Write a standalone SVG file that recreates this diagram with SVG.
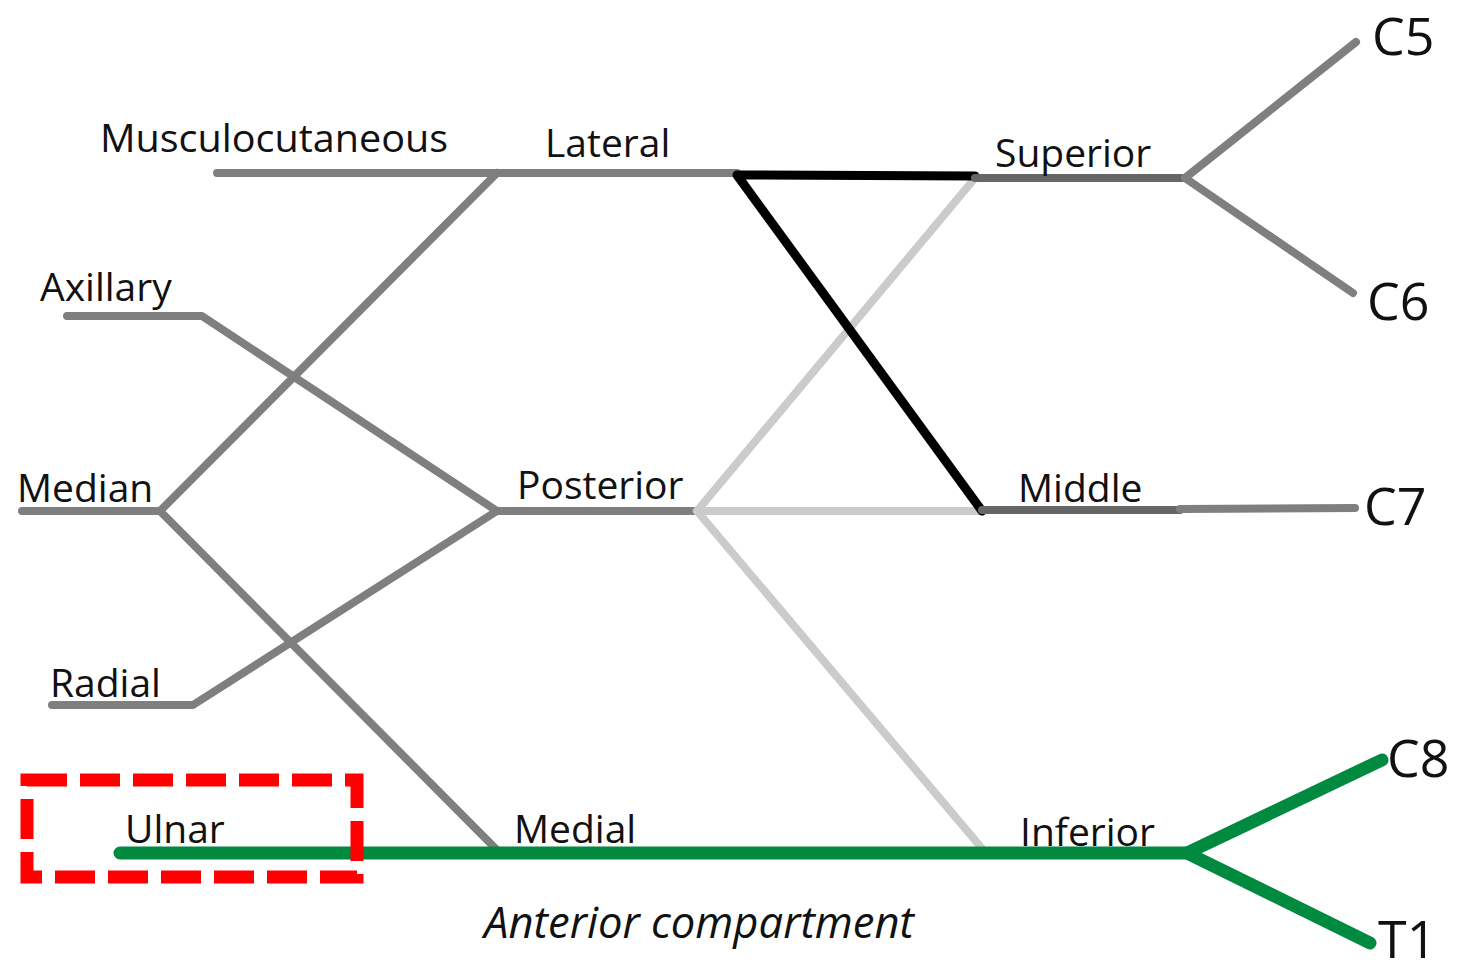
<svg xmlns="http://www.w3.org/2000/svg" width="1461" height="971" viewBox="0 0 1461 971">
<style>
.l{fill:none;stroke-linecap:round;stroke-linejoin:round}
.g{stroke:#7f7f7f;stroke-width:8}
.dg{stroke:#666;stroke-width:8}
.bk{stroke:#000;stroke-width:9}
.lg{stroke:#cbcbcb;stroke-width:8}
.gr{stroke:#008a40;stroke-width:13}
text{font-family:"Open Sans","Noto Sans",sans-serif;fill:#111}
.t{font-size:39px}
.c{font-size:52px}
.i{font-style:italic;font-size:43px}
</style>
<rect width="1461" height="971" fill="#fff"/>
<g id="connectors">
<polyline class="l g" points="217,173 497,173 737,173"/>
<polyline class="l g" points="67,316 202,316 497,511"/>
<polyline class="l g" points="22,511 160,511 497,173"/>
<polyline class="l g" points="160,511 497,850"/>
<polyline class="l g" points="52,705 193,705 497,511 697,511"/>
<polyline class="l lg" points="975,178 697,511 980,511"/>
<polyline class="l lg" points="697,511 985,852"/>
<polyline class="l bk" points="975,176 737,175 982,511"/>
<polyline class="l dg" points="975,178 1185,178"/>
<polyline class="l g" points="1356,42 1185,178 1353,293"/>
<polyline class="l dg" points="982,510 1180,510"/>
<polyline class="l g" points="1180,509 1355,508"/>
<polyline class="l gr" points="120,853 1187,853 1382,760"/>
<polyline class="l gr" points="1187,853 1370,943"/>
</g>
<g id="highlight"><rect x="27" y="780" width="330" height="97" fill="none" stroke="#f00" stroke-width="13" stroke-dasharray="40 13"/></g>
<g id="n-musculocutaneous"><text class="t" x="100" y="152" textLength="348" lengthAdjust="spacingAndGlyphs">Musculocutaneous</text></g>
<g id="n-lateral"><text class="t" x="545" y="157">Lateral</text></g>
<g id="n-superior"><text class="t" x="995" y="167">Superior</text></g>
<g id="n-c5"><text class="c" x="1372" y="55">C5</text></g>
<g id="n-c6"><text class="c" x="1367" y="320">C6</text></g>
<g id="n-axillary"><text class="t" x="40" y="301">Axillary</text></g>
<g id="n-median"><text class="t" x="17" y="502">Median</text></g>
<g id="n-posterior"><text class="t" x="517" y="499">Posterior</text></g>
<g id="n-middle"><text class="t" x="1018" y="502">Middle</text></g>
<g id="n-c7"><text class="c" x="1364" y="525">C7</text></g>
<g id="n-radial"><text class="t" x="50" y="697">Radial</text></g>
<g id="n-ulnar"><text class="t" x="125" y="843">Ulnar</text></g>
<g id="n-medial"><text class="t" x="514" y="843">Medial</text></g>
<g id="n-inferior"><text class="t" x="1020" y="846">Inferior</text></g>
<g id="n-c8"><text class="c" x="1387" y="777">C8</text></g>
<g id="n-t1"><text class="c" x="1378" y="958">T1</text></g>
<g id="caption"><text class="i" x="484" y="938" textLength="430" lengthAdjust="spacingAndGlyphs">Anterior compartment</text></g>
</svg>
